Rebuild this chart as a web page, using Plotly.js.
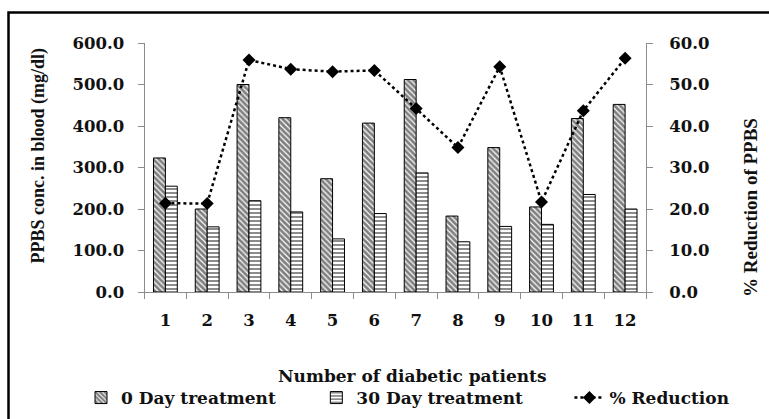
<!DOCTYPE html>
<html>
<head>
<meta charset="utf-8">
<script src="https://cdn.plot.ly/plotly-3.0.1.min.js"></script>
<style>
  html, body { margin: 0; padding: 0; background: #fff; }
  #chart { width: 769px; height: 419px; }
</style>
</head>
<body>
<div id="chart"></div>
<script>
// ---- data ----
const patients = ['1','2','3','4','5','6','7','8','9','10','11','12'];
const day0 = [323, 200, 500, 420, 273, 407, 512, 183, 348, 205, 418, 452];
const day30 = [255, 157, 220, 193, 128, 189, 287, 121, 158, 163, 235, 200];
const reduction = [21.4, 21.3, 55.9, 53.7, 53.1, 53.4, 44.2, 34.8, 54.3, 21.7, 43.7, 56.3];
const leftTicks = [0, 100, 200, 300, 400, 500, 600];
const rightTicks = [0, 10, 20, 30, 40, 50, 60];
const seriesNames = ['0 Day treatment', '30 Day treatment', '% Reduction'];

const HFONT = '"DejaVu Serif", "Liberation Serif", serif';
const VFONT = '"Liberation Serif", "Times New Roman", serif';
const TXT = '#111111';
const AXC = '#8c8c8c';
const W = 769, H = 419;
const px = v => v / W;          // pixel -> paper x
const py = v => 1 - v / H;      // pixel -> paper y
const pad = n => '\u00A0'.repeat(n);

const traces = [
  {
    type: 'bar', name: seriesNames[0] + pad(6), x: patients, y: day0,
    marker: { color: '#ffffff', line: { color: '#000', width: 1 },
      pattern: { shape: '\\', size: 4, solidity: 0.7, fgcolor: '#000', bgcolor: '#fff', fillmode: 'overlay' } }
  },
  {
    type: 'bar', name: seriesNames[1] + pad(7), x: patients, y: day30,
    marker: { color: '#ffffff', line: { color: '#000', width: 1 },
      pattern: { shape: '-', size: 4, solidity: 0.45, fgcolor: '#000', bgcolor: '#fff', fillmode: 'overlay' } }
  },
  {
    type: 'scatter', mode: 'lines+markers', name: seriesNames[2], x: patients, y: reduction, yaxis: 'y2',
    line: { color: '#000', width: 2.5, dash: 'dot' },
    marker: { symbol: 'diamond', size: 10, color: '#000' }
  }
];

const layout = {
  width: W, height: H,
  margin: { l: 0, r: 0, t: 0, b: 0 },
  paper_bgcolor: '#fff', plot_bgcolor: '#fff',
  showlegend: true,
  barmode: 'group', bargap: 0.43, bargroupgap: 0,
  font: { family: HFONT, color: TXT, size: 16 },
  xaxis: {
    type: 'category', domain: [px(144.5), px(646)], range: [-0.5, 11.5],
    showgrid: false, zeroline: false,
    showline: true, linecolor: AXC, linewidth: 1,
    ticks: 'outside', tickson: 'boundaries', ticklen: 6, tickcolor: AXC,
    tickfont: { family: HFONT, size: 16.5, color: TXT, weight: 'bold' },
    ticklabelstandoff: 13
  },
  yaxis: {
    domain: [py(292), py(43)],
    range: [0, 600], tickvals: leftTicks, tickformat: '.1f',
    showgrid: false, zeroline: false,
    showline: true, linecolor: AXC, linewidth: 1,
    ticks: 'outside', ticklen: 6, tickcolor: AXC,
    tickfont: { family: HFONT, size: 16.5, color: TXT, weight: 'bold' },
    ticklabelstandoff: 10
  },
  yaxis2: {
    overlaying: 'y', side: 'right', anchor: 'x',
    range: [0, 60], tickvals: rightTicks, tickformat: '.1f',
    showgrid: false, zeroline: false,
    showline: true, linecolor: AXC, linewidth: 1,
    ticks: 'outside', ticklen: 6, tickcolor: AXC,
    tickfont: { family: HFONT, size: 16.5, color: TXT, weight: 'bold' },
    ticklabelstandoff: 13
  },
  legend: {
    orientation: 'h', x: px(81), xanchor: 'left', y: py(398), yanchor: 'middle',
    font: { family: HFONT, size: 17, color: TXT, weight: 'bold' },
    bgcolor: 'rgba(0,0,0,0)', traceorder: 'normal'
  },
  annotations: [
    { text: 'Number of diabetic patients', xref: 'paper', yref: 'paper',
      x: px(412), y: py(376), xanchor: 'center', yanchor: 'middle', showarrow: false,
      font: { family: HFONT, size: 17, color: TXT, weight: 'bold' } },
    { text: 'PPBS conc. in blood (mg/dl)', xref: 'paper', yref: 'paper',
      x: px(38), y: py(155.5), xanchor: 'center', yanchor: 'middle', textangle: -90, showarrow: false,
      font: { family: VFONT, size: 18, color: TXT, weight: 'bold' } },
    { text: '% Reduction of PPBS', xref: 'paper', yref: 'paper',
      x: px(750), y: py(208), xanchor: 'center', yanchor: 'middle', textangle: -90, showarrow: false,
      font: { family: VFONT, size: 19, color: TXT, weight: 'bold' } }
  ],
  shapes: [
    { type: 'rect', xref: 'paper', yref: 'paper', x0: px(8.5), x1: px(790), y0: py(440), y1: py(12.5),
      line: { color: '#000', width: 2.5 }, fillcolor: 'rgba(0,0,0,0)', layer: 'below' }
  ]
};

Plotly.newPlot('chart', traces, layout, { displayModeBar: false, staticPlot: true });
</script>
</body>
</html>
